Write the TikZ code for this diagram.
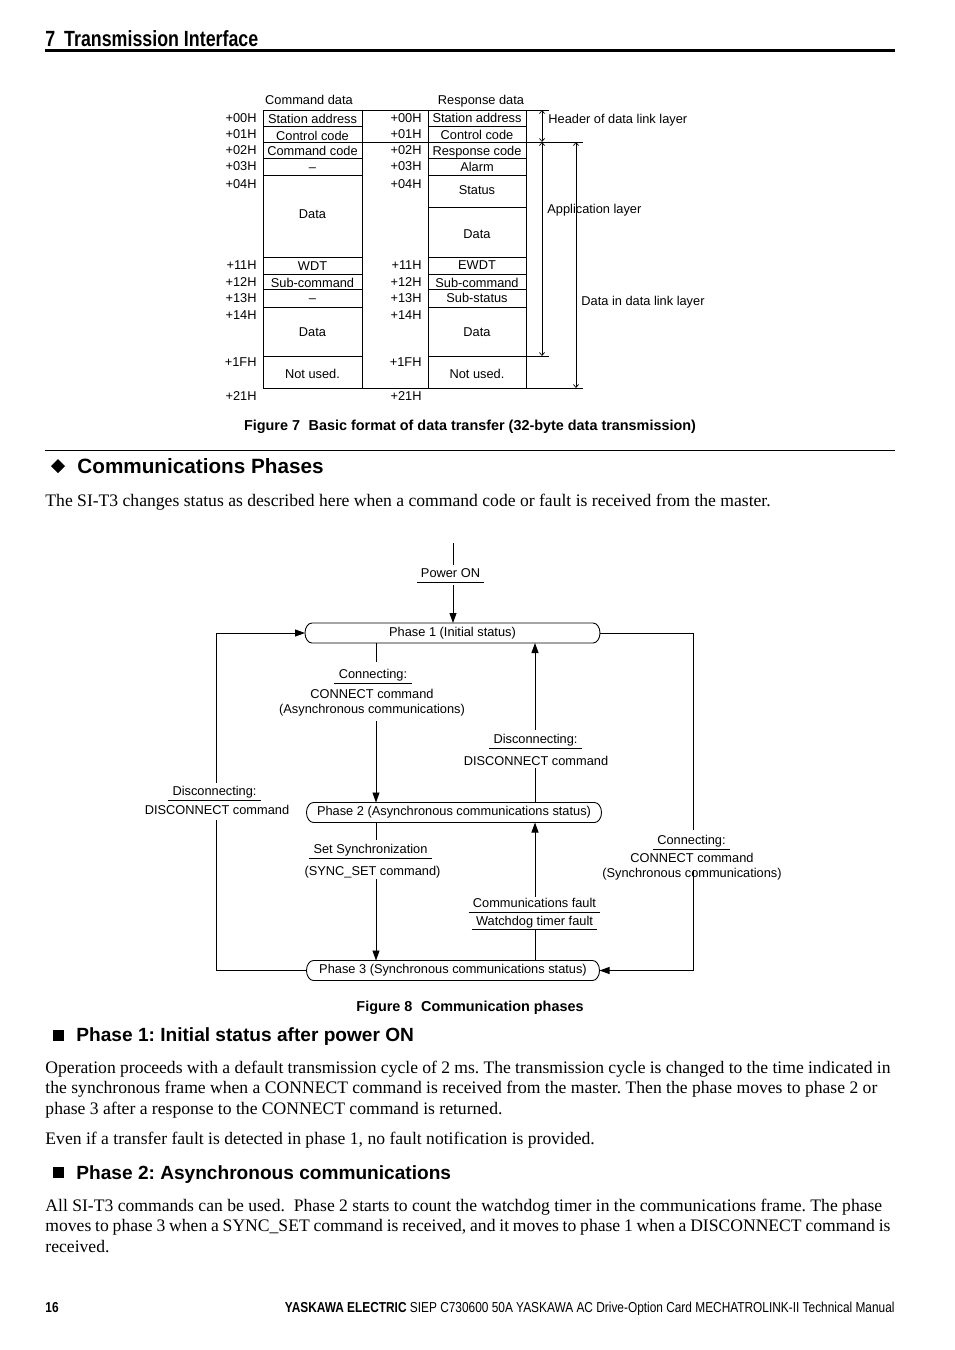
\documentclass[tikz,border=0pt]{standalone}
\usepackage{fontspec}
\setmainfont{Liberation Serif}
\setsansfont{Liberation Sans}
\newfontfamily\headsf[FakeStretch=0.81]{Liberation Sans}
\newfontfamily\footsf[FakeStretch=0.825]{Liberation Sans}
\usetikzlibrary{arrows.meta,positioning}

\newcommand{\figfont}{\sffamily\fontsize{12.8}{15}\selectfont}
\newcommand{\capfont}{\sffamily\bfseries\fontsize{14.4}{17}\selectfont}
\newcommand{\bodyfont}{\rmfamily\fontsize{17.6}{20.5}\selectfont}
\newcommand{\headfont}{\headsf\bfseries\fontsize{22}{26}\selectfont}
% outline of a phase box, flat round ends
\newcommand{\capsule}[1]{%
	\draw ([xshift=7pt]#1.north west) -- ([xshift=-7pt]#1.north east)
		arc[start angle=90,end angle=-90,x radius=7pt,y radius=10pt]
		-- ([xshift=7pt]#1.south west)
		arc[start angle=270,end angle=90,x radius=7pt,y radius=10pt] -- cycle;}

\tikzset{
	cell/.style={font=\figfont, inner sep=0pt, anchor=base, yshift=-4.6pt},
	lbl/.style={font=\figfont, anchor=base, yshift=-4.6pt, inner xsep=4pt, inner ysep=0pt, text height=9.2pt, text depth=4pt},
	cmd/.style={font=\figfont, align=center, inner sep=0pt, anchor=north, yshift=4.7pt},
	phase/.style={font=\figfont, minimum height=20pt, inner sep=0pt, outer sep=0pt},
	arr/.style={-{Triangle[length=10pt,width=7pt]}},
	dim/.style={<->, >={Straight Barb[length=3pt,width=5pt]}, line width=0.7pt},
	body/.style={font=\bodyfont, inner sep=0pt, anchor=base west},
}

\begin{document}
\frenchspacing
\begin{tikzpicture}[x=1pt,y=-1pt,line width=0.9pt]
	\fill[white] (0,0) rectangle (954,1350);
	\useasboundingbox (0,0) rectangle (954,1350);
	% page head
	\node[font=\headfont, anchor=base west, inner sep=0pt] (head) at (45,46.5) {7\hspace{0.4em}Transmission Interface};
	\fill (45,49) rectangle (895,52);

	% Figure 7: the two records
	\node[cell] (cmdtitle) at (309,100) {Command data};
	\node[cell] (restitle) at (481,100) {Response data};
	\draw (263,110) -- (549,110);
	\draw (263,142) -- (583,142);
	\draw (263,388) -- (583,388);
	\foreach \xx in {263,362,428,526} \draw (\xx,110) -- (\xx,388);
	\foreach \yy in {126,158,175,257,274,289,307,356} \draw (263,\yy) -- (362,\yy);
	\foreach \yy in {126,158,175,207,257,274,289,307} \draw (428,\yy) -- (526,\yy);
	\draw (428,356) -- (549,356);
	\foreach \off/\yy [count=\i] in {+00H/118,+01H/134,+02H/150,+03H/166,+04H/184,+11H/265,+12H/282,+13H/298,+14H/315,+1FH/362,+21H/396}{
		\node[cell, anchor=base east] (offc\i) at (257,\yy) {\off};
		\node[cell, anchor=base east] (offr\i) at (422,\yy) {\off};
	}
	\foreach \txt/\yy [count=\i] in {Station address/118.5,Control code/135.5,Command code/150.5,–/166.5,Data/214,WDT/265.5,Sub-command/282.5,–/297.5,Data/332,Not used./374}
		\node[cell] (cmdf\i) at (312.5,\yy) {\txt};
	\foreach \txt/\yy [count=\i] in {Station address/118,Control code/135,Response code/150.5,Alarm/166.5,Status/190,Data/234,EWDT/265,Sub-command/282.5,Sub-status/298,Data/332,Not used./374}
		\node[cell] (resf\i) at (477,\yy) {\txt};
	% layers
	\draw[dim] (542,110) -- (542,142);
	\draw[dim] (542,142) -- (542,356);
	\draw[dim] (576,142) -- (576,388);
	\node[cell, anchor=base west] (hdrlayer) at (548,119) {Header of data link layer};
	\node[cell, anchor=base west] (applayer) at (547,209) {Application layer};
	\node[cell, anchor=base west] (datalayer) at (581,301) {Data in data link layer};
	\node[font=\capfont, anchor=base, inner sep=0pt] (fig7) at (470,430) {Figure 7\hspace{0.6em}Basic format of data transfer (32-byte data transmission)};

	% section
	\draw (45,450.5) -- (895,450.5);
	\fill (58,459) -- (65,466) -- (58,473) -- (51,466) -- cycle;
	\node[font=\sffamily\bfseries\fontsize{20.7}{24}\selectfont, anchor=base west, inner sep=0pt] (sec) at (77,473) {Communications Phases};
	\node[body] (intro) at (45,506) {The SI-T3 changes status as described here when a command code or fault is received from the master.};

	% Figure 8: phases
	\node[phase, minimum width=295pt] (ph1) at (452.5,633) {Phase 1 (Initial status)};
	\node[phase, minimum width=295pt] (ph2) at (454,812.5) {Phase 2 (Asynchronous communications status)};
	\node[phase, minimum width=293pt] (ph3) at (453,970.5) {Phase 3 (Synchronous communications status)};
	\capsule{ph1}
	\capsule{ph2}
	\capsule{ph3}

	\node[lbl] (pwr) at (450.5,573) {Power ON};
	\node[lbl] (conA) at (373,674) {Connecting:};
	\node[cmd] (conAcmd) at (372,693) {CONNECT command\\(Asynchronous communications)};
	\node[lbl] (disB) at (535.5,739) {Disconnecting:};
	\node[cmd] (disBcmd) at (536,760) {DISCONNECT command};
	\node[lbl] (disL) at (214.5,791) {Disconnecting:};
	\node[cmd] (disLcmd) at (217,809.5) {DISCONNECT command};
	\node[lbl] (syncA) at (370.5,849) {Set Synchronization};
	\node[cmd] (syncAcmd) at (372.5,870) {(SYNC\_SET command)};
	\node[lbl] (cf) at (534.5,903) {Communications fault};
	\node[lbl] (wd) at (534.5,920.5) {Watchdog timer fault};
	\node[lbl] (conR) at (691.5,840) {Connecting:};
	\node[cmd] (conRcmd) at (692,857) {CONNECT command\\(Synchronous communications)};
	\foreach \n in {pwr,conA,disB,disL,syncA,cf,wd,conR}
		\draw (\n.south west) -- (\n.south east);

	\coordinate (pwrtop) at (453,543);
	\coordinate (xA) at (376,0);
	\coordinate (xB) at (535,0);
	\coordinate (xL) at (216,0);
	\coordinate (xR) at (693,0);
	\draw[shorten >=3pt] (pwrtop) -- (pwr.north -| pwrtop);
	\draw[arr, shorten <=3pt] (pwr.south -| pwrtop) -- (ph1.north -| pwrtop);
	\draw[shorten >=7pt] (ph1.south -| xA) -- (conA.north -| xA);
	\draw[arr, shorten <=5pt] (conAcmd.south -| xA) -- (ph2.north -| xA);
	\draw[shorten >=2pt] (ph2.north -| xB) -- (disBcmd.south -| xB);
	\draw[arr, shorten <=4pt] (disB.north -| xB) -- (ph1.south -| xB);
	\draw[shorten >=5pt] (ph3.west) -| (disLcmd.south -| xL);
	\draw[arr, shorten <=3pt] (disL.north -| xL) |- (ph1.west);
	\draw[shorten >=4pt] (ph2.south -| xA) -- (syncA.north -| xA);
	\draw[arr, shorten <=1pt] (syncAcmd.south -| xA) -- (ph3.north -| xA);
	\draw (ph3.north -| xB) -- (wd.south -| xB);
	\draw[arr, shorten <=1pt] (cf.north -| xB) -- (ph2.south -| xB);
	\draw[shorten >=5pt] (ph1.east) -| (conR.north -| xR);
	\draw[arr, shorten <=-10pt] (conRcmd.south -| xR) |- (ph3.east);
	\node[font=\capfont, anchor=base, inner sep=0pt] (fig8) at (470,1011) {Figure 8\hspace{0.6em}Communication phases};

	% phase 1 text
	\fill (52.5,1029.5) rectangle (63.5,1040.5);
	\node[font=\sffamily\bfseries\fontsize{19.1}{22}\selectfont, anchor=base west, inner sep=0pt] (subA) at (76,1041) {Phase 1: Initial status after power ON};
	\node[body] (pA1) at (45,1073) {\hbox to 845pt{Operation proceeds with a default transmission cycle of 2 ms. The transmission cycle is changed to the time indicated in}};
	\node[body] (pA2) at (45,1093.5) {the synchronous frame when a CONNECT command is received from the master. Then the phase moves to phase 2 or};
	\node[body] (pA3) at (45,1114) {phase 3 after a response to the CONNECT command is returned.};
	\node[body] (pA4) at (45,1144) {Even if a transfer fault is detected in phase 1, no fault notification is provided.};

	% phase 2 text
	\fill (52.5,1166.5) rectangle (63.5,1177.5);
	\node[font=\sffamily\bfseries\fontsize{19.1}{22}\selectfont, anchor=base west, inner sep=0pt] (subB) at (76,1179) {Phase 2: Asynchronous communications};
	\node[body] (pB1) at (45,1211) {All SI-T3 commands can be used.~ Phase 2 starts to count the watchdog timer in the communications frame. The phase};
	\node[body] (pB2) at (45,1231.5) {\hbox to 845pt{moves to phase 3 when a SYNC\_SET command is received, and it moves to phase 1 when a DISCONNECT command is}};
	\node[body] (pB3) at (45,1252) {received.};

	% page foot
	\node[font=\footsf\bfseries\fontsize{14.4}{17}\selectfont, anchor=base west, inner sep=0pt] (pageno) at (45,1312) {16};
	\node[font=\footsf\fontsize{14.4}{17}\selectfont, anchor=base east, inner sep=0pt] (foot) at (895,1312) {\textbf{YASKAWA ELECTRIC} SIEP C730600 50A YASKAWA AC Drive-Option Card MECHATROLINK-II Technical Manual};
\end{tikzpicture}
\end{document}
